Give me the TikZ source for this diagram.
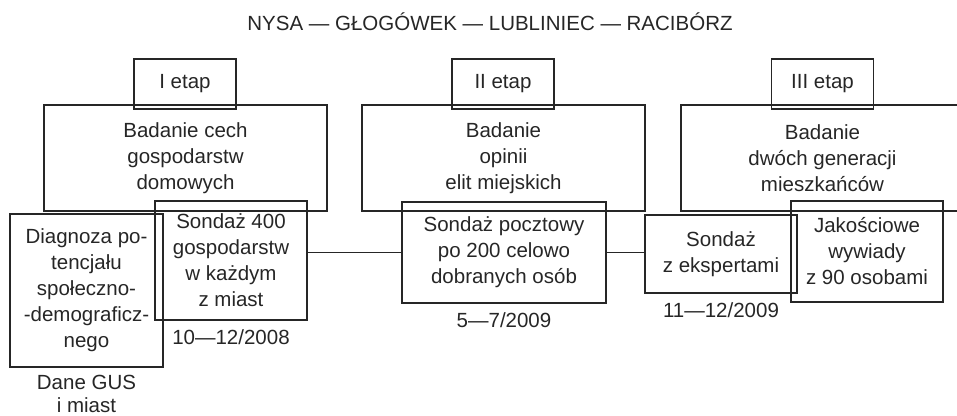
\documentclass[tikz,border=0pt]{standalone}
\usepackage{fontspec}
\setmainfont{Liberation Sans}
\usetikzlibrary{positioning}
\definecolor{ink}{HTML}{262626}

\begin{document}
\begin{tikzpicture}[
    x=1pt, y=-1pt,
    every node/.style={font=\fontsize{20.5}{26}\selectfont, text=ink},
    cell/.style={draw=ink, line width=1.1pt, inner sep=0pt, align=center},
    stage/.style={cell, minimum width=102pt, minimum height=50pt},
    topic/.style={cell, minimum width=283pt, minimum height=106pt},
    when/.style={inner sep=0pt, align=center},
    link/.style={draw=ink, line width=1.1pt}
  ]
  \useasboundingbox (0,0) rectangle (957,415);
  \clip (0,0) rectangle (957,415);

  \node (title) at (490,22) {NYSA — GŁOGÓWEK — LUBLINIEC — RACIBÓRZ};

  % stages
  \node[stage] (st1) at (185,84)   {I etap};
  \node[stage] (st2) at (503,84)   {II etap};
  \node[stage] (st3) at (822.5,84) {III etap};

  \node[topic] (tp1) at (185.5,158) {Badanie cech\\gospodarstw\\domowych};
  \node[topic] (tp2) at (503.5,158) {Badanie\\opinii\\elit miejskich};
  \node[topic] (tp3) at (822.5,158) {Badanie\\dwóch generacji\\mieszkańców};

  % methods
  \node[cell, minimum width=153pt, minimum height=153pt] (diag) at (86.5,290.5)
    {Diagnoza po-\\tencjału\\społeczno-\\-demograficz-\\nego};
  \node[cell, minimum width=152pt, minimum height=119pt] (s400) at (231,260.5)
    {Sondaż 400\\gospodarstw\\w każdym\\z miast};
  \node[cell, minimum width=204pt, minimum height=101pt] (poczt) at (504,252.5)
    {Sondaż pocztowy\\po 200 celowo\\dobranych osób};
  \node[cell, minimum width=152pt, minimum height=78pt] (eksp) at (721,254)
    {Sondaż\\z ekspertami};
  \node[cell, minimum width=152pt, minimum height=101pt] (jak) at (867,251.5)
    {Jakościowe\\wywiady\\z 90 osobami};

  % dates and sources
  \node[when, below=7pt of diag, font=\fontsize{20.5}{23.5}\selectfont] (gus) {Dane GUS\\i miast};
  \node[when, below=9pt of s400]  (d1)   {10—12/2008};
  \node[when, below=9pt of poczt] (d2)   {5—7/2009};
  \node[when, below=9pt of eksp]  (d3)   {11—12/2009};

  \draw[link] (s400.east |- poczt.west) -- (poczt.west);
  \draw[link] (poczt.east) -- (eksp.west |- poczt.east);
\end{tikzpicture}
\end{document}
